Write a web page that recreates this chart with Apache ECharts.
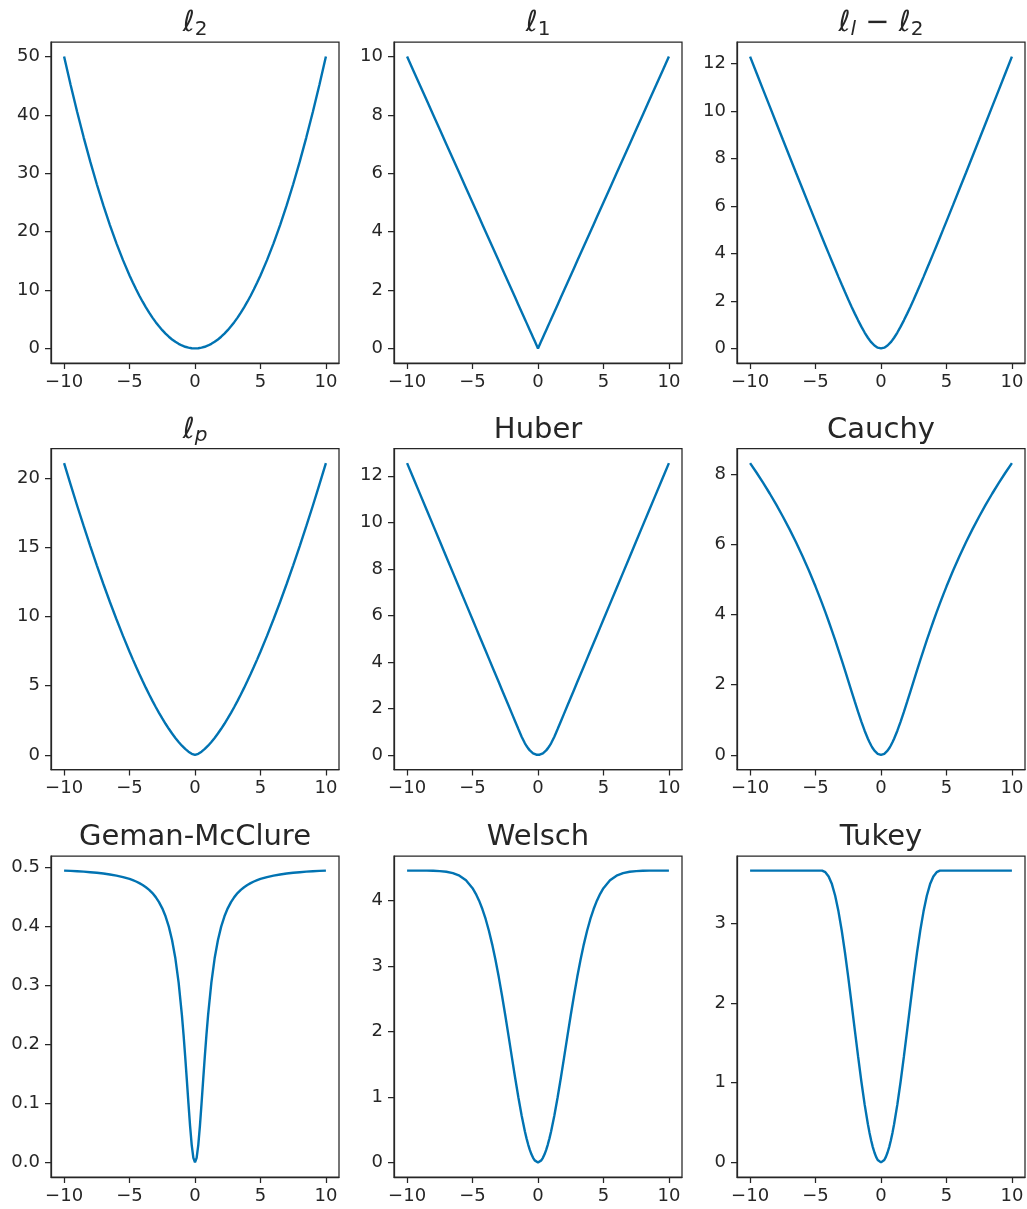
<!DOCTYPE html>
<html>
<head>
<meta charset="utf-8">
<script src="https://cdn.jsdelivr.net/npm/echarts@6/dist/echarts.min.js"></script>
<style>
html,body{margin:0;padding:0;background:#ffffff;}
#chart{width:1027px;height:1209px;}
</style>
</head>
<body>
<div id="chart"></div>
<script>
// ---------------- data ----------------
const xValues = [-10,-9.5,-9,-8.5,-8,-7.5,-7,-6.5,-6,-5.5,-5,-4.75,-4.5,-4.25,-4,-3.75,-3.5,-3.25,-3,-2.75,-2.5,-2.25,-2,-1.75,-1.5,-1.25,
  -1,-0.875,-0.75,-0.625,-0.5,-0.375,-0.25,-0.125,0,0.125,0.25,0.375,0.5,0.625,0.75,0.875,1,
  1.25,1.5,1.75,2,2.25,2.5,2.75,3,3.25,3.5,3.75,4,4.25,4.5,4.75,5,5.5,6,6.5,7,7.5,8,8.5,9,9.5,10];

const l2Values = [50,45.125,40.5,36.125,32,28.125,24.5,21.125,18,15.125,12.5,11.281,10.125,9.031,8,7.031,6.125,5.281,4.5,3.781,3.125,2.531,2,1.531,1.125,0.781,
  0.5,0.383,0.281,0.195,0.125,0.070,0.031,0.008,0,0.008,0.031,0.070,0.125,0.195,0.281,0.383,0.5,
  0.781,1.125,1.531,2,2.531,3.125,3.781,4.5,5.281,6.125,7.031,8,9.031,10.125,11.281,12.5,15.125,18,21.125,24.5,28.125,32,36.125,40.5,45.125,50];

const l1Values = [10,9.5,9,8.5,8,7.5,7,6.5,6,5.5,5,4.75,4.5,4.25,4,3.75,3.5,3.25,3,2.75,2.5,2.25,2,1.75,1.5,1.25,
  1,0.875,0.75,0.625,0.5,0.375,0.25,0.125,0,0.125,0.25,0.375,0.5,0.625,0.75,0.875,1,
  1.25,1.5,1.75,2,2.25,2.5,2.75,3,3.25,3.5,3.75,4,4.25,4.5,4.75,5,5.5,6,6.5,7,7.5,8,8.5,9,9.5,10];

const l1l2Values = [12.283,11.583,10.884,10.186,9.489,8.794,8.100,7.407,6.718,6.031,5.348,5.009,4.671,4.334,4.0,3.668,3.339,3.012,2.690,2.373,2.062,1.758,1.464,1.182,0.916,0.669,
  0.449,0.352,0.264,0.187,0.121,0.069,0.031,0.008,0,0.008,0.031,0.069,0.121,0.187,0.264,0.352,0.449,
  0.669,0.916,1.182,1.464,1.758,2.062,2.373,2.690,3.012,3.339,3.668,4.0,4.334,4.671,5.009,5.348,6.031,6.718,7.407,8.100,8.794,9.489,10.186,10.884,11.583,12.283];

const lpValues = [21.082,19.521,18,16.521,15.085,13.693,12.347,11.048,9.798,8.599,7.454,6.902,6.364,5.841,5.333,4.841,4.365,3.906,3.464,3.040,2.635,2.25,1.886,1.543,1.225,0.932,
  0.667,0.546,0.433,0.329,0.236,0.153,0.083,0.029,0,0.029,0.083,0.153,0.236,0.329,0.433,0.546,0.667,
  0.932,1.225,1.543,1.886,2.25,2.635,3.040,3.464,3.906,4.365,4.841,5.333,5.841,6.364,6.902,7.454,8.599,9.798,11.048,12.347,13.693,15.085,16.521,18,19.521,21.082];

const huberValues = [12.546,11.873,11.201,10.528,9.856,9.183,8.511,7.838,7.166,6.493,5.821,5.484,5.148,4.812,4.476,4.139,3.803,3.467,3.131,2.794,2.458,2.122,1.786,1.449,1.113,0.781,
  0.5,0.383,0.281,0.195,0.125,0.070,0.031,0.008,0,0.008,0.031,0.070,0.125,0.195,0.281,0.383,0.5,
  0.781,1.113,1.449,1.786,2.122,2.458,2.794,3.131,3.467,3.803,4.139,4.476,4.812,5.148,5.484,5.821,6.493,7.166,7.838,8.511,9.183,9.856,10.528,11.201,11.873,12.546];

const cauchyValues = [8.311,8.036,7.747,7.445,7.126,6.791,6.437,6.062,5.665,5.243,4.794,4.558,4.315,4.065,3.806,3.540,3.267,2.986,2.698,2.405,2.108,1.810,1.515,1.225,0.948,0.690,
  0.461,0.359,0.268,0.189,0.122,0.070,0.031,0.008,0,0.008,0.031,0.070,0.122,0.189,0.268,0.359,0.461,
  0.690,0.948,1.225,1.515,1.810,2.108,2.405,2.698,2.986,3.267,3.540,3.806,4.065,4.315,4.558,4.794,5.243,5.665,6.062,6.437,6.791,7.126,7.445,7.747,8.036,8.311];

const gemanValues = [0.4950,0.4945,0.4939,0.4932,0.4923,0.4913,0.49,0.4884,0.4865,0.484,0.4808,0.4788,0.4765,0.4738,0.4706,0.4668,0.4623,0.4568,0.45,0.4416,0.431,0.4175,0.4,0.3769,0.3462,0.3049,
  0.25,0.2168,0.18,0.1404,0.1,0.0616,0.0294,0.0077,0,0.0077,0.0294,0.0616,0.1,0.1404,0.18,0.2168,0.25,
  0.3049,0.3462,0.3769,0.4,0.4175,0.431,0.4416,0.45,0.4568,0.4623,0.4668,0.4706,0.4738,0.4765,0.4788,0.4808,0.484,0.4865,0.4884,0.49,0.4913,0.4923,0.4932,0.4939,0.4945,0.4950];

const welschValues = [4.455,4.455,4.455,4.454,4.452,4.447,4.437,4.416,4.377,4.306,4.186,4.101,3.996,3.868,3.716,3.536,3.329,3.094,2.833,2.549,2.246,1.931,1.611,1.296,0.994,0.717,
  0.473,0.367,0.273,0.191,0.123,0.070,0.031,0.008,0,0.008,0.031,0.070,0.123,0.191,0.273,0.367,0.473,
  0.717,0.994,1.296,1.611,1.931,2.246,2.549,2.833,3.094,3.329,3.536,3.716,3.868,3.996,4.101,4.186,4.306,4.377,4.416,4.437,4.447,4.452,4.454,4.455,4.455,4.455];

const tukeyValues = [3.658,3.658,3.658,3.658,3.658,3.658,3.658,3.658,3.658,3.658,3.658,3.658,3.657,3.638,3.585,3.489,3.343,3.147,2.907,2.628,2.320,1.992,1.658,1.328,1.014,0.727,
  0.478,0.370,0.274,0.192,0.124,0.070,0.031,0.008,0,0.008,0.031,0.070,0.124,0.192,0.274,0.370,0.478,
  0.727,1.014,1.328,1.658,1.992,2.320,2.628,2.907,3.147,3.343,3.489,3.585,3.638,3.657,3.658,3.658,3.658,3.658,3.658,3.658,3.658,3.658,3.658,3.658,3.658,3.658];

// tick values / labels
const xTickValues = [-10,-5,0,5,10];
const xTickLabels = ['\u221210','\u22125','0','5','10'];
const yTicksL2 = [0,10,20,30,40,50];
const yTicksL1 = [0,2,4,6,8,10];
const yTicksL1L2 = [0,2,4,6,8,10,12];
const yTicksLp = [0,5,10,15,20];
const yTicksHuber = [0,2,4,6,8,10,12];
const yTicksCauchy = [0,2,4,6,8];
const yTicksGeman = [0,0.1,0.2,0.3,0.4,0.5];
const yTickLabelsGeman = ['0.0','0.1','0.2','0.3','0.4','0.5'];
const yTicksWelsch = [0,1,2,3,4];
const yTicksTukey = [0,1,2,3];

// titles (rich text)
const titleTexts = [
  '{e|\u2113}{s|2}',
  '{e|\u2113}{s|1}',
  '{e|\u2113}{si|l}{n| \u2212 }{e|\u2113}{s|2}',
  '{e|\u2113}{si|p}',
  'Huber',
  'Cauchy',
  'Geman-McClure',
  'Welsch',
  'Tukey'
];

// ---------------- layout / style ----------------
const FONT = 'DejaVu Sans';
const INK = '#262626';
const LINE = '#0173B2';
const colLeft = [51, 394, 737];
const rowTop = [42, 448.5, 856];
const W = 288, H = 321;

const panels = [
  {vals: l2Values, ticks: yTicksL2},
  {vals: l1Values, ticks: yTicksL1},
  {vals: l1l2Values, ticks: yTicksL1L2},
  {vals: lpValues, ticks: yTicksLp},
  {vals: huberValues, ticks: yTicksHuber},
  {vals: cauchyValues, ticks: yTicksCauchy},
  {vals: gemanValues, ticks: yTicksGeman, labels: yTickLabelsGeman},
  {vals: welschValues, ticks: yTicksWelsch},
  {vals: tukeyValues, ticks: yTicksTukey}
];

const grids = [], xAxes = [], yAxes = [], series = [], titles = [];
const richStyles = {
  e: {fontFamily: FONT, fontSize: 29, fontStyle: 'italic', color: INK},
  s: {fontFamily: FONT, fontSize: 20, color: INK, padding: [12, 0, 0, 0]},
  si: {fontFamily: FONT, fontSize: 20, fontStyle: 'italic', color: INK, padding: [12, 0, 0, 0]},
  n: {fontFamily: FONT, fontSize: 29, color: INK}
};

panels.forEach((p, i) => {
  const r = Math.floor(i / 3), c = i % 3;
  const left = colLeft[c], top = rowTop[r];
  grids.push({left: left, top: top, width: W, height: H, show: true,
    borderColor: INK, borderWidth: 1.25, backgroundColor: 'transparent', containLabel: false});
  const dmin = Math.min(...p.vals), dmax = Math.max(...p.vals);
  const pad = (dmax - dmin) * 0.05;
  xAxes.push({
    type: 'value', gridIndex: i, min: -11, max: 11,
    axisLine: {show: true, onZero: false, lineStyle: {color: INK, width: 1.25}},
    splitLine: {show: false},
    axisTick: {show: true, inside: false, length: 6, customValues: xTickValues,
      lineStyle: {color: INK, width: 1.25}},
    axisLabel: {show: true, customValues: xTickValues, margin: 10,
      fontFamily: FONT, fontSize: 18, color: INK,
      formatter: v => xTickLabels[xTickValues.indexOf(v)]}
  });
  yAxes.push({
    type: 'value', gridIndex: i, min: dmin - pad, max: dmax + pad,
    axisLine: {show: true, onZero: false, lineStyle: {color: INK, width: 1.25}},
    splitLine: {show: false},
    axisTick: {show: true, inside: false, length: 6, customValues: p.ticks,
      lineStyle: {color: INK, width: 1.25}},
    axisLabel: {show: true, customValues: p.ticks, margin: 11,
      fontFamily: FONT, fontSize: 18, color: INK,
      formatter: v => {
        const k = p.ticks.indexOf(v);
        return p.labels ? p.labels[k] : String(v);
      }}
  });
  series.push({
    type: 'line', xAxisIndex: i, yAxisIndex: i,
    data: xValues.map((x, j) => [x, p.vals[j]]),
    showSymbol: false, symbol: 'none', smooth: false,
    lineStyle: {color: LINE, width: 2.4}, animation: false
  });
  titles.push({
    text: titleTexts[i], left: left + W / 2, top: top - 34.3, textAlign: 'center', padding: 0,
    textStyle: {fontFamily: FONT, fontSize: 29, fontWeight: 'normal', color: INK, lineHeight: 32, rich: richStyles}
  });
});

const chart = echarts.init(document.getElementById('chart'), null, {renderer: 'canvas'});
chart.setOption({
  backgroundColor: '#ffffff',
  animation: false,
  title: titles,
  grid: grids,
  xAxis: xAxes,
  yAxis: yAxes,
  series: series
});
</script>
</body>
</html>
